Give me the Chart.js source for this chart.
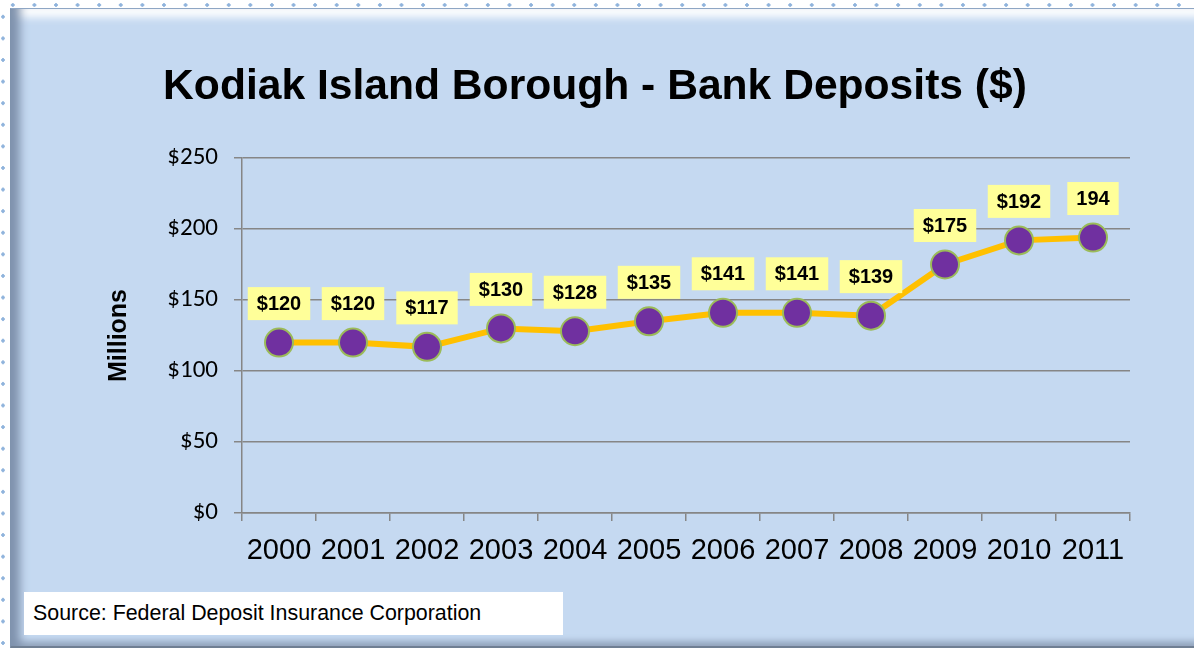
<!DOCTYPE html>
<html>
<head>
<meta charset="utf-8">
<script src="https://cdn.jsdelivr.net/npm/chart.js@4"></script>
<style>
  html, body { margin: 0; padding: 0; background: #ffffff; }
  body { width: 1194px; height: 648px; position: relative; overflow: hidden; }
  /* dotted guide marks along top and left */
  .dots-top { position: absolute; left: 0; top: 3px; width: 1194px; height: 4px;
    background-image: radial-gradient(circle, #8fb3dc 1.5px, transparent 2px);
    background-size: 21.6px 4px; background-position: 2px 0; }
  .dots-left { position: absolute; left: 1px; top: 0; width: 4px; height: 648px;
    background-image: radial-gradient(circle, #8fb3dc 1.5px, transparent 2px);
    background-size: 4px 21.6px; background-position: 0 6px; }
  .frame { position: absolute; left: 10px; top: 8px; width: 1200px; height: 637px;
    background: #c5d9f1;
    border-top: 1px solid #8ea6c4; border-left: 1px solid #7f93ad; border-bottom: 3px solid #6f7f93;
    box-shadow: inset 15px 0 10px -6px #7f92ad, inset 0 16px 8px -8px #ffffff, inset 0 -9px 6px -4px #95a7bf; }
  #wrap { position: absolute; left: 0; top: 0; width: 1194px; height: 648px; }
  .source { position: absolute; left: 24px; top: 592px; width: 539px; height: 43px;
    background: #ffffff; font-family: Arial, "Liberation Sans", sans-serif; font-size: 21.4px;
    line-height: 43px; padding-left: 9px; box-sizing: border-box; color: #000; white-space: nowrap; }
</style>
</head>
<body>
<div class="dots-top"></div>
<div class="dots-left"></div>
<div class="frame"></div>
<div id="wrap"><canvas id="chart" width="1194" height="648"></canvas></div>
<div class="source">Source: Federal Deposit Insurance Corporation</div>
<script>
  var years = ['2000', '2001', '2002', '2003', '2004', '2005', '2006', '2007', '2008', '2009', '2010', '2011'];
  var deposits = [120, 120, 117, 130, 128, 135, 141, 141, 139, 175, 192, 194];
  var pointLabels = ['$120', '$120', '$117', '$130', '$128', '$135', '$141', '$141', '$139', '$175', '$192', '194'];

  var ARIAL = 'Arial, "Liberation Sans", sans-serif';
  var CALIBRI = 'Carlito, Lato, "Open Sans", sans-serif';

  // yellow label boxes above each point
  var boxLabels = {
    id: 'boxLabels',
    afterDatasetsDraw: function(chart) {
      var ctx = chart.ctx;
      var meta = chart.getDatasetMeta(0);
      ctx.save();
      ctx.font = 'bold 20px ' + ARIAL;
      ctx.textAlign = 'center';
      ctx.textBaseline = 'middle';
      meta.data.forEach(function(pt, i) {
        var txt = pointLabels[i];
        var w = ctx.measureText(txt).width + 18;
        var h = 33;
        var cx = pt.x, cy = pt.y - 39;
        ctx.fillStyle = '#ffff99';
        ctx.fillRect(cx - w / 2, cy - h / 2, w, h);
        ctx.fillStyle = '#000000';
        ctx.fillText(txt, cx, cy + 1);
      });
      ctx.restore();
    }
  };

  new Chart(document.getElementById('chart'), {
    type: 'line',
    plugins: [boxLabels],
    data: {
      labels: years,
      datasets: [{
        data: deposits,
        borderColor: '#ffc000',
        borderWidth: 6,
        pointRadius: 14,
        pointBackgroundColor: '#7030a0',
        pointBorderColor: '#9bbb59',
        pointBorderWidth: 2,
        tension: 0
      }]
    },
    options: {
      responsive: false,
      animation: false,
      layout: { padding: { left: 60, right: 64, top: 0, bottom: 0 } },
      plugins: {
        legend: { display: false },
        tooltip: { enabled: false },
        title: {
          display: true,
          text: 'Kodiak Island Borough - Bank Deposits ($)',
          color: '#000000',
          font: { family: ARIAL, size: 42.6, weight: 'bold' },
          padding: { top: 62, bottom: 44.9 }
        }
      },
      scales: {
        x: {
          offset: true,
          grid: { offset: true, drawOnChartArea: false, drawTicks: true, tickLength: 8, color: '#868686', lineWidth: 1.5 },
          border: { color: '#868686', width: 1.5 },
          ticks: { color: '#000000', font: { family: ARIAL, size: 29 }, padding: 13, maxRotation: 0, autoSkip: false },
          afterFit: function(scale) { scale.height = 135; }
        },
        y: {
          min: 0,
          max: 250,
          ticks: { stepSize: 50, color: '#000000', font: { family: CALIBRI, size: 25 }, padding: 16,
            callback: function(v) { return '$' + v; } },
          grid: { color: '#868686', lineWidth: 1.5, tickLength: 8 },
          border: { color: '#868686', width: 1.5 },
          title: { display: true, text: 'Millions', color: '#000000',
            font: { family: ARIAL, size: 25, weight: 'bold' }, padding: { top: 44, bottom: 0 } },
          afterFit: function(scale) { scale.width = 182; }
        }
      }
    }
  });
</script>
</body>
</html>
